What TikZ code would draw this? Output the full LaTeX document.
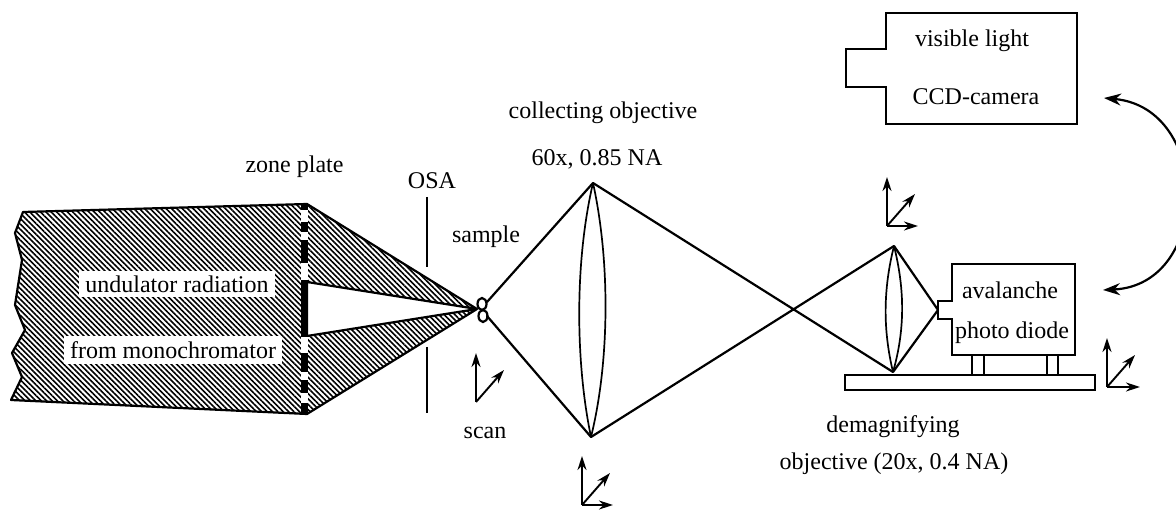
\documentclass[tikz,border=0pt]{standalone}
\usepackage{fontspec}
\setmainfont{Liberation Serif}
\usetikzlibrary{patterns.meta,arrows.meta}
\tikzset{
  x=1pt,y=-1pt,
  ray/.style={line width=2.2pt,line cap=round,line join=round},
  box/.style={line width=1.8pt,line join=miter},
  thin lens/.style={line width=1.7pt},
  axis/.style={line width=1.9pt,-{Stealth[length=14pt,width=9pt]}},
  label/.style={font=\fontsize{24}{26}\selectfont,inner sep=0pt,text=black},
  onbeam/.style={label,fill=white,inner xsep=6pt,inner ysep=5pt},
  hatched/.style={pattern={Lines[angle=-45,distance=3.8pt,line width=1.6pt]},pattern color=black},
  zp/.style={line width=7pt,line cap=butt}
}
\begin{document}
\begin{tikzpicture}
\useasboundingbox (0,0) rectangle (1176,510);
\clip (0,0) rectangle (1176,510);
% key points
\coordinate (zt) at (307,204);
\coordinate (zb) at (307,414);
\coordinate (zi) at (307,282);
\coordinate (zj) at (307,336);
\coordinate (f) at (477,309);
\coordinate (l1t) at (593,183);
\coordinate (l1b) at (591,437);
\coordinate (l2t) at (894,246);
\coordinate (l2b) at (893,372);
\coordinate (d) at (938,310);
\coordinate (s1) at (487,302);
\coordinate (s2) at (487,316);
% beam
\draw[ray,hatched] (23,212) -- (15,233) -- (22,260) -- (15,305) -- (25,330) -- (12,353) -- (22,377) -- (11,400)
  -- (zb) -- (f) -- (zj) -- (zi) -- (f) -- (zt) -- cycle;
% zone plate
\foreach \a/\b in {210/222,232/240,263/280,337/353,372/380,393/403}
  \draw[line width=7pt,white] (304,\a) -- (304,\b);
\foreach \a/\b in {203/210,222/232,240/263,280/337,353/372,380/393,403/415}
  \draw[zp] (304,\a) -- (304,\b);
% OSA
\draw[line width=2.6pt] (427,197) -- (427,267);
\draw[line width=2.6pt] (427,347) -- (427,413);
% sample
\draw[line width=2.2pt] (482,304) ellipse (4.5 and 6);
\draw[line width=2.2pt] (483,316) ellipse (4.5 and 6);
% rays
\draw[ray] (s1) -- (l1t) -- (l2b) -- (d) -- (l2t) -- (l1b) -- (s2);
% lenses
\draw[thin lens] (l1t) .. controls (575,260) and (575,360) .. (l1b);
\draw[thin lens] (l1t) .. controls (610,260) and (610,360) .. (l1b);
\draw[thin lens] (l2t) .. controls (883,290) and (883,330) .. (l2b);
\draw[thin lens] (l2t) .. controls (905,290) and (905,330) .. (l2b);
% camera
\draw[box] (886,13) -- (1077,13) -- (1077,124) -- (886,124) -- (886,87) -- (846,87) -- (846,49) -- (886,49) -- cycle;
% APD
\draw[box] (952,264) -- (1075,264) -- (1075,355) -- (952,355) -- (952,319) -- (938,319) -- (938,301) -- (952,301) -- cycle;
\draw[box] (972,355) -- (972,375) (984,355) -- (984,375) (1047,355) -- (1047,375) (1058,355) -- (1058,375);
\draw[box] (845,375) rectangle (1095,390);
% double arrow
\draw[line width=2.2pt,{Stealth[length=17pt,width=12pt]}-{Stealth[length=17pt,width=12pt]}]
  (1104,98) .. controls (1212,108) and (1212,285) .. (1103,290);
% axes
\foreach \ox/\oy/\n in {476/402/a,582/505/b,887/226/c,1107/387/e}{
  \coordinate (o\n) at (\ox,\oy);
  \draw[axis] (o\n) -- ++(0,-49);
  \draw[axis] (o\n) -- ++(28,-32);
}
\draw[axis] (ob) -- ++(31,0);
\draw[axis] (oc) -- ++(31,0);
\draw[axis] (oe) -- ++(33,0);
% labels
\node[label] (t1) at (603,113) {collecting objective};
\node[label] (t2) at (597,159) {60x, 0.85 NA};
\node[label] (t3) at (294.5,167) {zone plate};
\node[label] (t4) at (432,181) {OSA};
\node[label] (t5) at (486,237) {sample};
\node[label] (t6) at (485,433) {scan};
\node[onbeam] (t7) at (177,284) {undulator radiation};
\node[onbeam] (t8) at (173,350) {from monochromator};
\node[label] (t9) at (972,41) {visible light};
\node[label] (t10) at (976,97) {CCD-camera};
\node[label] (t11) at (1010,290) {avalanche};
\node[label] (t12) at (1012,333) {photo diode};
\node[label] (t13) at (893,427) {demagnifying};
\node[label] (t14) at (894,464) {objective (20x, 0.4 NA)};
\end{tikzpicture}
\end{document}
